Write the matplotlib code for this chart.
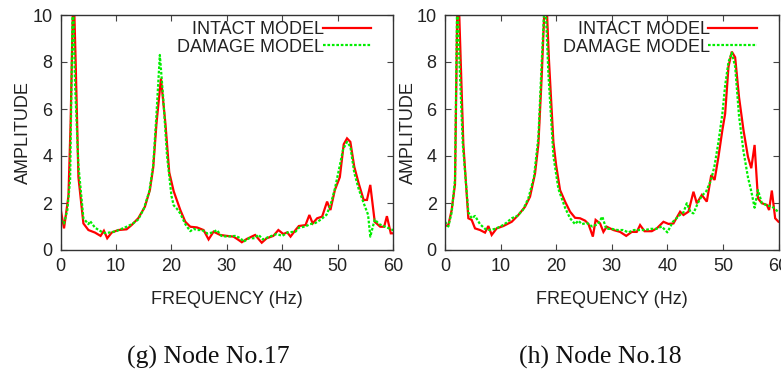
import matplotlib
matplotlib.use("Agg")
import matplotlib.pyplot as plt

# ---------------- data ----------------
g_freq_intact = [0, 0.6, 1.4, 1.8, 2.3, 2.7, 3.2, 4.1, 5.0, 6.2, 7.2, 7.8, 8.4, 9.2, 10.4, 11.9, 12.8,
                 14.0, 15.2, 16.1, 16.7, 17.3, 18.1, 18.9, 19.6, 20.4, 21.6, 22.5, 23.4, 24.6, 25.8,
                 26.7, 27.6, 28.2, 28.8, 30.0, 31.2, 32.1, 32.7, 33.6, 35.1, 36.3, 37.2, 38.4, 39.3,
                 40.2, 40.9, 41.5, 42.4, 43.0, 44.2, 44.9, 45.5, 46.3, 47.2, 48.1, 48.7, 49.5, 50.4,
                 51.1, 51.7, 52.3, 53.0, 53.8, 54.7, 55.3, 55.9, 56.7, 57.7, 58.4, 58.9, 59.6, 60.4]
g_amp_intact = [1.73, 0.92, 2.3, 5.5, 11.5, 8.0, 3.1, 1.13, 0.85, 0.74, 0.6, 0.82, 0.5, 0.74, 0.85, 0.88, 1.06,
                1.35, 1.84, 2.55, 3.5, 5.4, 7.3, 5.4, 3.3, 2.5, 1.7, 1.2, 0.99, 0.96, 0.85,
                0.45, 0.78, 0.71, 0.64, 0.6, 0.57, 0.43, 0.33, 0.47, 0.64, 0.31, 0.5, 0.6, 0.85,
                0.68, 0.75, 0.57, 0.85, 1.02, 1.06, 1.49, 1.13, 1.35, 1.42, 2.06, 1.7, 2.55, 3.1,
                4.5, 4.75, 4.6, 3.55, 2.84, 2.13, 2.13, 2.77, 1.2, 0.99, 0.99, 1.44, 0.71, 0.71]

g_freq_damage = [0, 0.6, 1.2, 1.7, 2.2, 2.6, 3.2, 4.1, 5.0, 5.3, 6.2, 7.2, 8.0, 9.0, 10, 11, 12, 13, 14,
                 15, 16, 16.7, 17.3, 17.9, 18.5, 19.2, 20.0, 20.4, 21.0, 21.6, 22.5, 23.4, 24.0, 24.6,
                 25.5, 26.5, 27.5, 28.2, 29, 30, 31.5, 32.5, 33, 34, 35, 35.7, 36.5, 37.5, 39, 40, 41,
                 42.4, 43, 44.2, 45, 46, 47, 48, 48.7, 49.5, 50.4, 51, 51.7, 52.3, 53, 53.8, 54.7,
                 55.5, 55.9, 56.7, 57.5, 58.5, 59.5, 60.4]
g_amp_damage = [1.28, 1.13, 1.7, 3.0, 11.0, 7.0, 3.6, 1.35, 1.1, 1.23, 0.95, 0.8, 0.72, 0.75, 0.8, 0.9, 1.0, 1.12, 1.3,
                1.75, 2.5, 3.6, 5.8, 8.3, 6.5, 4.0, 2.3, 1.9, 1.75, 1.55, 1.1, 0.8, 0.9, 0.85,
                0.85, 0.7, 0.75, 0.85, 0.6, 0.57, 0.6, 0.5, 0.35, 0.5, 0.5, 0.65, 0.45, 0.55, 0.68, 0.6, 0.75,
                0.78, 0.95, 1.0, 1.1, 1.15, 1.3, 1.5, 1.9, 2.6, 3.6, 4.3, 4.6, 4.4, 3.3, 2.6, 2.0,
                1.5, 0.57, 1.3, 1.1, 1.0, 0.9, 0.8]

h_freq_intact = [0, 0.6, 1.2, 1.8, 2.3, 2.7, 3.3, 4.2, 4.8, 5.4, 6.3, 7.2, 7.8, 8.4, 9.3, 10.5, 12.0, 13.2,
                 14.4, 15.3, 16.2, 16.8, 17.4, 18.1, 18.7, 19.5, 20.0, 20.7, 21.6, 22.5, 23.4, 24.3, 25.2,
                 25.8, 26.6, 27.1, 27.9, 28.5, 29.1, 30.3, 31.5, 32.6, 33.6, 34.5, 35.1, 35.9, 37.2, 38.1,
                 39.3, 40.2, 41.1, 42.3, 42.9, 43.8, 44.7, 45.3, 46.2, 47.1, 47.9, 48.5, 49.2, 49.9, 50.4,
                 51.0, 51.6, 52.2, 52.9, 53.7, 54.5, 55.1, 55.7, 56.3, 57.0, 57.9, 58.3, 58.8, 59.4, 60.0, 60.6]
h_amp_intact = [1.02, 1.06, 1.7, 2.8, 12.0, 9.0, 4.5, 1.35, 1.28, 0.92, 0.85, 0.74, 1.02, 0.64, 0.92, 1.02, 1.2, 1.49,
                1.84, 2.27, 3.26, 4.5, 7.4, 11.5, 8.1, 4.6, 3.6, 2.55, 2.06, 1.63, 1.37, 1.35, 1.25,
                1.11, 0.57, 1.28, 1.13, 0.77, 0.99, 0.85, 0.77, 0.6, 0.77, 0.77, 1.06, 0.8, 0.8, 0.92,
                1.2, 1.11, 1.13, 1.63, 1.49, 1.63, 2.48, 1.99, 2.34, 2.06, 3.19, 2.98, 3.97, 5.1, 5.8,
                7.8, 8.44, 8.2, 6.5, 5.1, 3.97, 3.48, 4.47, 2.2, 1.99, 1.92, 1.7, 2.53, 1.35, 1.2, 1.15]

h_freq_damage = [0, 0.6, 1.2, 1.8, 2.2, 2.6, 3.2, 4.2, 4.8, 5.4, 6.3, 7.2, 8, 9, 10, 11, 12, 13, 14, 15, 16,
                 16.8, 17.4, 18.0, 18.6, 19.5, 20.4, 21.6, 22.5, 23.4, 24, 24.6, 25.5, 26.5, 27.5, 28.3,
                 29, 30, 31, 32, 33, 34, 35, 36, 37, 38, 39, 40, 41, 42.3, 42.9, 43.5, 44.2, 44.7, 45.5,
                 46.2, 47, 47.9, 48.5, 49.2, 49.9, 50.4, 51, 51.6, 52.2, 52.9, 53.7, 54.5, 55.1, 55.7,
                 56.3, 57, 57.9, 58.8, 59.4, 60]
h_amp_damage = [1.2, 1.0, 1.6, 3.0, 11.0, 8.0, 4.5, 1.6, 1.35, 1.45, 1.1, 0.9, 0.85, 0.9, 1.0, 1.15, 1.35, 1.45, 1.7, 2.2, 3.1,
                4.8, 8.0, 11.0, 7.5, 4.0, 2.6, 1.8, 1.35, 1.1, 1.25, 1.1, 1.15, 1.0, 1.1, 1.42,
                0.9, 0.9, 0.85, 0.85, 0.75, 0.85, 0.85, 0.85, 0.9, 0.9, 1.0, 0.75, 1.2, 1.5, 1.6, 1.99, 1.6, 1.56, 2.0,
                2.3, 2.5, 3.0, 3.6, 4.6, 5.8, 7.0, 8.0, 8.4, 7.8, 5.7, 4.2, 3.1, 2.5, 1.8,
                2.55, 2.0, 1.9, 1.85, 1.75, 1.6]

x_ticks = [0, 10, 20, 30, 40, 50, 60]
y_ticks = [0, 2, 4, 6, 8, 10]
series_labels = ["INTACT MODEL", "DAMAGE MODEL"]
x_label = "FREQUENCY (Hz)"
y_label = "AMPLITUDE"
captions = ["(g) Node No.17", "(h) Node No.18"]

# ---------------- figure ----------------
W, H = 781, 379
fig = plt.figure(figsize=(W / 100, H / 100), dpi=100)
plt.rcParams['font.family'] = ['Liberation Sans', 'DejaVu Sans']

TXT = '#222222'
panels = [
    (60.7, 393.0, g_freq_intact, g_amp_intact, g_freq_damage, g_amp_damage),
    (445.0, 778.5, h_freq_intact, h_amp_intact, h_freq_damage, h_amp_damage),
]
top_px, bot_px = 15.0, 250.0

axes = []
for (x0, x1, fi, ai, fd, ad) in panels:
    ax = fig.add_axes([x0 / W, 1 - bot_px / H, (x1 - x0) / W, (bot_px - top_px) / H])
    ax.plot(fi, ai, color='#ff0000', lw=1.6, label=series_labels[0], solid_joinstyle='miter')
    ax.plot(fd, ad, color='#00ee00', lw=1.6, ls=(0, (1.2, 0.8)), label=series_labels[1])
    ax.set_xlim(0, 60)
    ax.set_ylim(0, 10)
    ax.set_xticks(x_ticks)
    ax.set_yticks(y_ticks)
    ax.tick_params(direction='in', length=4, width=0.8, top=True, right=True,
                   labelsize=13, colors='#444444', labelcolor=TXT, pad=6)
    for s in ax.spines.values():
        s.set_color('#333333')
        s.set_linewidth(1.0)
    ax.set_xlabel(x_label, fontsize=13, color=TXT, labelpad=11)
    ax.set_ylabel(y_label, fontsize=13, color=TXT, labelpad=0)
    leg = ax.legend(loc='upper right', bbox_to_anchor=(0.935, 0.975), frameon=False,
                    markerfirst=False, fontsize=13, handlelength=2.7, handletextpad=-0.1,
                    labelspacing=0.05, borderaxespad=0.0, borderpad=0.0)
    for t in leg.get_texts():
        t.set_color(TXT)
    axes.append(ax)

fig.text(208 / W, 1 - 357 / H, captions[0], ha='center', va='center',
         fontsize=18.5, family=['Liberation Serif', 'DejaVu Serif'], color='#111111')
fig.text(600 / W, 1 - 357 / H, captions[1], ha='center', va='center',
         fontsize=18.5, family=['Liberation Serif', 'DejaVu Serif'], color='#111111')

fig.savefig('out.png', dpi=100)
